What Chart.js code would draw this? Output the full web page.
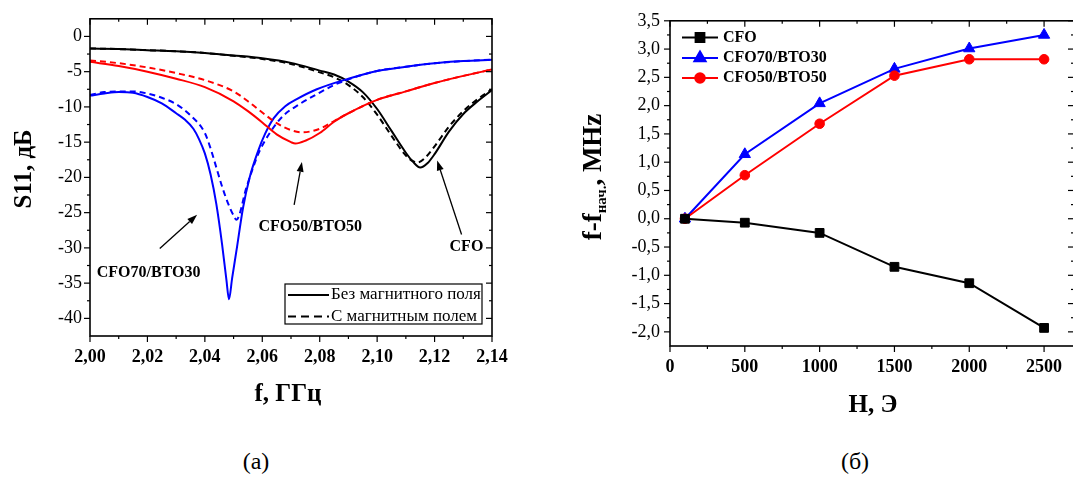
<!DOCTYPE html>
<html>
<head>
<meta charset="utf-8">
<script src="https://cdn.jsdelivr.net/npm/chart.js@4.4.0/dist/chart.umd.min.js"></script>
<style>
  body { margin: 0; width: 1073px; height: 478px; overflow: hidden; background: #fff; position: relative; font-family: "Liberation Serif", serif; }
  #boxA { position: absolute; left: 0; top: 0; }
  #boxB { position: absolute; left: 560px; top: 0; }
  .cap { position: absolute; top: 448px; width: 80px; text-align: center; font-size: 24px; }
</style>
</head>
<body>
<div id="boxA"><canvas id="chartA" width="530" height="440"></canvas></div>
<div id="boxB"><canvas id="chartB" width="540" height="440"></canvas></div>
<div class="cap" style="left:216px">(а)</div>
<div class="cap" style="left:815px">(б)</div>
<script>
// ---- panel (а): S11 vs frequency, GHz / dB ----
const fCfoOff = [2.00, 2.01, 2.02, 2.03, 2.04, 2.05, 2.06, 2.07, 2.08, 2.085, 2.09, 2.095, 2.10, 2.105, 2.11, 2.1125, 2.115, 2.1175, 2.12, 2.125, 2.13, 2.135, 2.14];
const s11CfoOff = [-1.7, -1.8, -1.95, -2.1, -2.35, -2.7, -3.1, -3.75, -4.85, -5.4, -6.4, -7.9, -10.3, -13.4, -16.5, -17.8, -18.6, -18.0, -16.7, -13.5, -11.0, -9.2, -7.6];
const fCfoOn = [2.00, 2.01, 2.02, 2.03, 2.04, 2.05, 2.06, 2.07, 2.08, 2.085, 2.09, 2.095, 2.10, 2.105, 2.11, 2.1125, 2.114, 2.1165, 2.12, 2.125, 2.13, 2.135, 2.14];
const s11CfoOn = [-1.7, -1.8, -1.95, -2.1, -2.35, -2.75, -3.2, -3.9, -5.1, -5.8, -6.9, -8.6, -11.1, -14.1, -16.9, -17.7, -17.9, -17.3, -15.6, -12.8, -10.6, -8.9, -7.5];

const fC50Off = [2.00, 2.01, 2.02, 2.03, 2.04, 2.05, 2.055, 2.06, 2.065, 2.07, 2.0715, 2.075, 2.08, 2.085, 2.09, 2.10, 2.11, 2.12, 2.13, 2.14];
const s11C50Off = [-3.6, -4.2, -5.0, -6.0, -7.2, -9.2, -10.6, -12.2, -13.9, -15.0, -15.2, -14.8, -13.7, -12.1, -10.9, -9.0, -7.8, -6.6, -5.6, -4.7];
const fC50On = [2.00, 2.01, 2.02, 2.03, 2.04, 2.05, 2.055, 2.06, 2.065, 2.07, 2.074, 2.08, 2.085, 2.09, 2.10, 2.11, 2.12, 2.13, 2.14];
const s11C50On = [-3.4, -3.8, -4.4, -5.2, -6.2, -7.8, -9.2, -10.8, -12.3, -13.3, -13.6, -13.1, -12.0, -10.9, -9.0, -7.8, -6.6, -5.6, -4.7];

const fC70Off = [2.00, 2.005, 2.01, 2.015, 2.02, 2.025, 2.03, 2.033, 2.036, 2.038, 2.04, 2.042, 2.044, 2.046, 2.0475, 2.0484, 2.0495, 2.051, 2.0533, 2.0556, 2.0585, 2.061, 2.064, 2.068, 2.072, 2.079, 2.09, 2.10, 2.11, 2.12, 2.13, 2.14];
const s11C70Off = [-8.4, -8.1, -7.9, -8.0, -8.6, -9.5, -10.9, -11.8, -13.1, -14.6, -16.6, -19.6, -23.8, -29.5, -34.5, -37.3, -34.3, -30.4, -24.3, -20.0, -16.3, -13.8, -11.6, -9.9, -8.9, -7.5, -6.0, -4.9, -4.3, -3.8, -3.5, -3.3];
const fC70On = [2.00, 2.005, 2.01, 2.015, 2.02, 2.025, 2.03, 2.035, 2.04, 2.042, 2.044, 2.046, 2.048, 2.050, 2.051, 2.0545, 2.0568, 2.059, 2.0626, 2.0672, 2.073, 2.079, 2.085, 2.09, 2.10, 2.11, 2.12, 2.13, 2.14];
const s11C70On = [-8.3, -7.9, -7.8, -7.8, -8.1, -8.7, -9.6, -11.2, -13.7, -15.9, -18.6, -21.3, -23.6, -25.4, -26.0, -21.4, -18.6, -16.3, -13.7, -11.3, -9.6, -8.2, -6.9, -6.1, -4.9, -4.3, -3.8, -3.5, -3.3];

const fTicks = [2.00, 2.02, 2.04, 2.06, 2.08, 2.10, 2.12, 2.14];
const fMinor = [2.01, 2.03, 2.05, 2.07, 2.09, 2.11, 2.13];
const dbTicks = [0, -5, -10, -15, -20, -25, -30, -35, -40];
const dbMinor = [-2.5, -7.5, -12.5, -17.5, -22.5, -27.5, -32.5, -37.5];

// ---- panel (б): frequency shift vs field ----
const fieldH = [100, 500, 1000, 1500, 2000, 2500];
const shiftCfo = [0, -0.07, -0.25, -0.85, -1.14, -1.93];
const shiftC70 = [0, 1.14, 2.04, 2.65, 3.01, 3.25];
const shiftC50 = [0, 0.77, 1.68, 2.53, 2.82, 2.82];

const hTicks = [0, 500, 1000, 1500, 2000, 2500];
const hMinor = [250, 750, 1250, 1750, 2250];
const shiftTicks = [-2.0, -1.5, -1.0, -0.5, 0, 0.5, 1.0, 1.5, 2.0, 2.5, 3.0, 3.5];
const shiftMinor = [-1.75, -1.25, -0.75, -0.25, 0.25, 0.75, 1.25, 1.75, 2.25, 2.75, 3.25];

const SERIF = '"Liberation Serif", "Times New Roman", serif';
const comma = (v, d) => v.toFixed(d).replace('.', ',');
const pts = (xs, ys) => xs.map((x, i) => ({ x, y: ys[i] }));

// frame on all four sides, outward ticks on bottom/left, inward on top/right
const frameTicks = {
  id: 'frameTicks',
  afterDatasetsDraw(chart, args, o) {
    const { ctx, chartArea: a } = chart;
    const sx = chart.scales.x, sy = chart.scales.y;
    const seg = (x1, y1, x2, y2) => { ctx.beginPath(); ctx.moveTo(x1, y1); ctx.lineTo(x2, y2); ctx.stroke(); };
    ctx.save();
    ctx.strokeStyle = '#000';
    ctx.lineWidth = 1.2;
    o.xMajor.forEach(v => { const p = sx.getPixelForValue(v); seg(p, a.bottom, p, a.bottom + 6); seg(p, a.top, p, a.top + 6); });
    o.xMinor.forEach(v => { const p = sx.getPixelForValue(v); seg(p, a.bottom, p, a.bottom + 3); seg(p, a.top, p, a.top + 3); });
    o.yMajor.forEach(v => { const p = sy.getPixelForValue(v); seg(a.left - 6, p, a.left, p); seg(a.right - 6, p, a.right, p); });
    o.yMinor.forEach(v => { const p = sy.getPixelForValue(v); seg(a.left - 3, p, a.left, p); seg(a.right - 3, p, a.right, p); });
    ctx.lineWidth = 1.6;
    ctx.strokeRect(a.left, a.top, a.right - a.left, a.bottom - a.top);
    ctx.restore();
  }
};

function arrow(ctx, x1, y1, x2, y2) {
  const ang = Math.atan2(y2 - y1, x2 - x1), L = 10, W = 3.5;
  ctx.beginPath(); ctx.moveTo(x1, y1); ctx.lineTo(x2 - L * Math.cos(ang), y2 - L * Math.sin(ang)); ctx.stroke();
  ctx.beginPath();
  ctx.moveTo(x2, y2);
  ctx.lineTo(x2 - L * Math.cos(ang) + W * Math.sin(ang), y2 - L * Math.sin(ang) - W * Math.cos(ang));
  ctx.lineTo(x2 - L * Math.cos(ang) - W * Math.sin(ang), y2 - L * Math.sin(ang) + W * Math.cos(ang));
  ctx.closePath(); ctx.fill();
}

// ---------- chart (а) ----------
const notesA = [
  { text: 'CFO70/BTO30', at: [2.0204, -33.6], from: [2.0243, -30.1], to: [2.0373, -25.3] },
  { text: 'CFO50/BTO50', at: [2.0767, -27.0], from: [2.0711, -23.9], to: [2.0738, -17.8] },
  { text: 'CFO', at: [2.1311, -29.9], from: [2.1294, -28.1], to: [2.1209, -17.6] }
];

const decorA = {
  id: 'decorA',
  afterDraw(chart) {
    const { ctx } = chart;
    const sx = chart.scales.x, sy = chart.scales.y;
    ctx.save();
    ctx.fillStyle = '#000'; ctx.strokeStyle = '#000';
    // annotations
    ctx.font = 'bold 16px ' + SERIF;
    ctx.textAlign = 'center'; ctx.textBaseline = 'middle';
    ctx.lineWidth = 1.3;
    notesA.forEach(n => {
      ctx.fillText(n.text, sx.getPixelForValue(n.at[0]), sy.getPixelForValue(n.at[1]));
      arrow(ctx, sx.getPixelForValue(n.from[0]), sy.getPixelForValue(n.from[1]), sx.getPixelForValue(n.to[0]), sy.getPixelForValue(n.to[1]));
    });
    // legend box
    const bx = 285, by = 284, bw = 197, bh = 40;
    ctx.fillStyle = '#fff'; ctx.fillRect(bx, by, bw, bh);
    ctx.lineWidth = 1.2; ctx.strokeRect(bx, by, bw, bh);
    ctx.fillStyle = '#000';
    ctx.lineWidth = 2;
    ctx.beginPath(); ctx.moveTo(bx + 3, 295); ctx.lineTo(bx + 44, 295); ctx.stroke();
    ctx.setLineDash([8, 5]);
    ctx.beginPath(); ctx.moveTo(bx + 3, 316.5); ctx.lineTo(bx + 44, 316.5); ctx.stroke();
    ctx.setLineDash([]);
    ctx.font = '17px ' + SERIF; ctx.textAlign = 'left';
    ctx.fillText('Без магнитного поля', bx + 46, 295);
    ctx.fillText('С магнитным полем', bx + 46, 316.5);
    // axis titles
    ctx.font = 'bold 25px ' + SERIF; ctx.textAlign = 'center';
    ctx.fillText('f, ГГц', 288, 395);
    ctx.translate(25, 169); ctx.rotate(-Math.PI / 2);
    ctx.fillText('S11, дБ', 0, 0);
    ctx.restore();
  }
};

const lineDs = (label, xs, ys, color, dashed) => ({
  label, data: pts(xs, ys), borderColor: color, borderWidth: 2,
  borderDash: dashed ? [6, 4] : [], pointRadius: 0, fill: false,
  cubicInterpolationMode: 'monotone'
});

new Chart(document.getElementById('chartA'), {
  type: 'line',
  data: {
    datasets: [
      lineDs('CFO50/BTO50 on', fC50On, s11C50On, '#ff0000', true),
      lineDs('CFO50/BTO50 off', fC50Off, s11C50Off, '#ff0000', false),
      lineDs('CFO70/BTO30 on', fC70On, s11C70On, '#0000ff', true),
      lineDs('CFO70/BTO30 off', fC70Off, s11C70Off, '#0000ff', false),
      lineDs('CFO on', fCfoOn, s11CfoOn, '#000000', true),
      lineDs('CFO off', fCfoOff, s11CfoOff, '#000000', false)
    ]
  },
  options: {
    responsive: false, animation: false,
    layout: { padding: { top: 17, right: 38, left: 0, bottom: 0 } },
    plugins: {
      legend: { display: false }, tooltip: { enabled: false },
      frameTicks: { xMajor: fTicks, xMinor: fMinor, yMajor: dbTicks, yMinor: dbMinor }
    },
    scales: {
      x: {
        type: 'linear', min: 2.00, max: 2.14,
        afterBuildTicks: s => { s.ticks = fTicks.map(v => ({ value: v })); },
        afterFit: s => { s.height = 104; },
        grid: { display: false, drawTicks: false }, border: { display: false },
        ticks: { color: '#000', padding: 11, maxRotation: 0, font: { family: SERIF, size: 18, weight: 'bold' }, callback: v => comma(v, 2) }
      },
      y: {
        min: -42.5, max: 2.5,
        afterBuildTicks: s => { s.ticks = dbTicks.map(v => ({ value: v })); },
        afterFit: s => { s.width = 90; },
        grid: { display: false, drawTicks: false }, border: { display: false },
        ticks: { color: '#000', padding: 8, font: { family: SERIF, size: 18 }, callback: v => String(v) }
      }
    }
  },
  plugins: [frameTicks, decorA]
});

// ---------- chart (б) ----------
const legendB = [
  { text: 'CFO', color: '#000000', style: 'rect', r: 6.2 },
  { text: 'CFO70/BTO30', color: '#0000ff', style: 'triangle', r: 6.5 },
  { text: 'CFO50/BTO50', color: '#ff0000', style: 'circle', r: 4.8 }
];

const decorB = {
  id: 'decorB',
  afterDraw(chart) {
    const { ctx } = chart;
    ctx.save();
    ctx.textBaseline = 'middle';
    // legend
    const rows = [37.5, 58, 78];
    legendB.forEach((it, i) => {
      const y = rows[i];
      ctx.strokeStyle = it.color; ctx.fillStyle = it.color; ctx.lineWidth = 2;
      ctx.beginPath(); ctx.moveTo(122, y); ctx.lineTo(158, y); ctx.stroke();
      Chart.helpers.drawPoint(ctx, { pointStyle: it.style, radius: it.r, rotation: 0, borderWidth: 1 }, 140, y);
      ctx.fillStyle = '#000';
      ctx.font = 'bold 16px ' + SERIF; ctx.textAlign = 'left';
      ctx.fillText(it.text, 163, y);
    });
    // axis titles
    ctx.fillStyle = '#000';
    ctx.font = 'bold 25px ' + SERIF; ctx.textAlign = 'center';
    ctx.fillText('H, Э', 313, 406);
    ctx.translate(34, 177); ctx.rotate(-Math.PI / 2);
    const big = 'bold 27px ' + SERIF, small = 'bold 15px ' + SERIF;
    ctx.font = big; const w1 = ctx.measureText('f-f').width, w3 = ctx.measureText(', MHz').width;
    ctx.font = small; const w2 = ctx.measureText('нач.').width;
    let x = -(w1 + w2 + w3) / 2;
    ctx.textAlign = 'left';
    ctx.font = big; ctx.fillText('f-f', x, 0); x += w1;
    ctx.font = small; ctx.fillText('нач.', x, 8); x += w2;
    ctx.font = big; ctx.fillText(', MHz', x, 0);
    ctx.restore();
  }
};

const markDs = (label, ys, color, style, r) => ({
  label, data: pts(fieldH, ys), borderColor: color, backgroundColor: color,
  borderWidth: 2, pointStyle: style, pointRadius: r, pointBorderWidth: 1,
  pointBackgroundColor: color, pointBorderColor: color, tension: 0, fill: false
});

new Chart(document.getElementById('chartB'), {
  type: 'line',
  data: {
    datasets: [
      markDs('CFO', shiftCfo, '#000000', 'rect', 6.2),
      markDs('CFO50/BTO50', shiftC50, '#ff0000', 'circle', 4.8),
      markDs('CFO70/BTO30', shiftC70, '#0000ff', 'triangle', 6.5)
    ]
  },
  options: {
    responsive: false, animation: false,
    layout: { padding: { top: 19, right: 26, left: 0, bottom: 0 } },
    plugins: {
      legend: { display: false }, tooltip: { enabled: false },
      frameTicks: { xMajor: hTicks, xMinor: hMinor, yMajor: shiftTicks, yMinor: shiftMinor }
    },
    scales: {
      x: {
        type: 'linear', min: 0, max: 2700,
        afterBuildTicks: s => { s.ticks = hTicks.map(v => ({ value: v })); },
        afterFit: s => { s.height = 94; },
        grid: { display: false, drawTicks: false }, border: { display: false },
        ticks: { color: '#000', padding: 11, maxRotation: 0, font: { family: SERIF, size: 18, weight: 'bold' }, callback: v => String(v) }
      },
      y: {
        min: -2.25, max: 3.5,
        afterBuildTicks: s => { s.ticks = shiftTicks.map(v => ({ value: v })); },
        afterFit: s => { s.width = 110; },
        grid: { display: false, drawTicks: false }, border: { display: false },
        ticks: { color: '#000', padding: 10, font: { family: SERIF, size: 18 }, callback: v => comma(v, 1) }
      }
    }
  },
  plugins: [frameTicks, decorB]
});
</script>
</body>
</html>
